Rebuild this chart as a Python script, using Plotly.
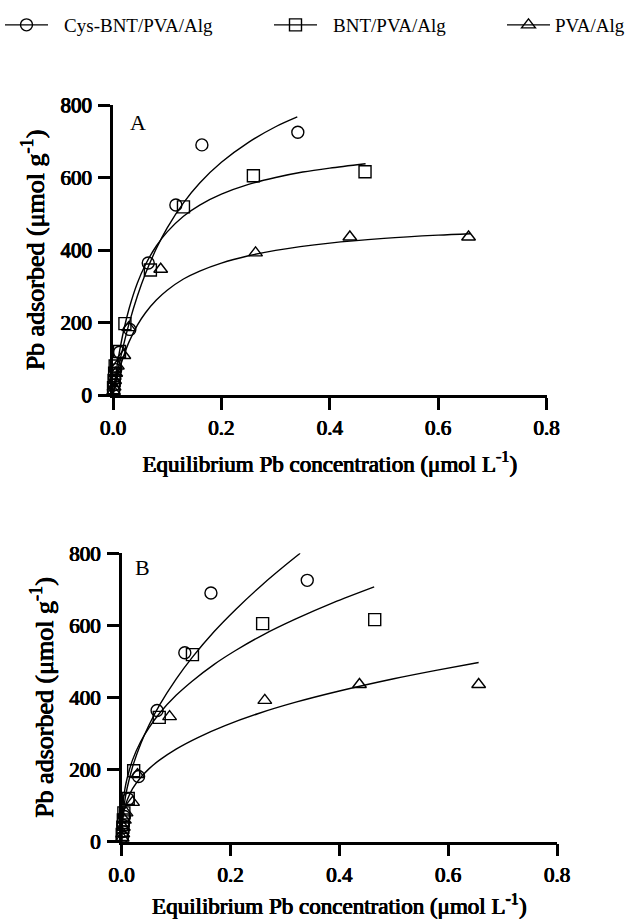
import plotly.graph_objects as go

# ---------------- data ----------------
cys_c = [0.001, 0.002, 0.003, 0.005, 0.012, 0.031, 0.065, 0.116, 0.164, 0.341]
cys_q = [12, 28, 45, 70, 118, 181, 364, 524, 690, 725]

bnt_c = [0.001, 0.002, 0.003, 0.004, 0.012, 0.022, 0.069, 0.130, 0.259, 0.465]
bnt_q = [20, 40, 60, 80, 120, 197, 345, 519, 605, 616]

pva_c = [0.001, 0.002, 0.003, 0.005, 0.008, 0.020, 0.029, 0.088, 0.263, 0.437, 0.656]
pva_q = [10, 22, 40, 60, 80, 109, 186, 347, 392, 436, 436]

# Panel A fitted (Langmuir-type) curves
fitA_cys_c = [0, 0.002, 0.005, 0.01, 0.02, 0.03, 0.045, 0.06, 0.08, 0.1, 0.13, 0.16, 0.2, 0.25, 0.3, 0.34]
fitA_cys_q = [0, 16, 39, 76, 141, 199, 273, 335, 404, 461, 530, 585, 642, 697, 740, 767]

fitA_bnt_c = [0, 0.002, 0.005, 0.01, 0.02, 0.03, 0.045, 0.06, 0.08, 0.1, 0.13, 0.16, 0.2, 0.25, 0.3, 0.35, 0.4, 0.466]
fitA_bnt_q = [0, 23, 55, 103, 180, 240, 309, 360, 411, 450, 493, 524, 554, 581, 600, 615, 626, 638]

fitA_pva_c = [0, 0.002, 0.005, 0.01, 0.02, 0.03, 0.045, 0.06, 0.08, 0.1, 0.13, 0.16, 0.2, 0.25, 0.3, 0.4, 0.5, 0.6, 0.66]
fitA_pva_q = [0, 14, 33, 62, 109, 148, 193, 227, 262, 289, 320, 342, 364, 384, 399, 419, 432, 441, 445]

# Panel B fitted (Freundlich-type) curves
fitB_cys_c = [0, 0.0002, 0.001, 0.003, 0.006, 0.01, 0.02, 0.035, 0.05, 0.07, 0.1, 0.13, 0.17, 0.21, 0.26, 0.3, 0.328]
fitB_cys_q = [0, 23, 49, 83, 116, 149, 208, 272, 323, 380, 451, 512, 583, 645, 715, 766, 800]

fitB_bnt_c = [0, 0.0002, 0.001, 0.003, 0.006, 0.01, 0.02, 0.035, 0.05, 0.07, 0.1, 0.13, 0.17, 0.21, 0.26, 0.32, 0.39, 0.464]
fitB_bnt_q = [0, 43, 77, 114, 147, 176, 227, 278, 316, 357, 406, 446, 492, 531, 574, 618, 664, 707]

fitB_pva_c = [0, 0.0002, 0.001, 0.003, 0.006, 0.01, 0.02, 0.035, 0.05, 0.07, 0.1, 0.14, 0.19, 0.25, 0.32, 0.4, 0.5, 0.58, 0.656]
fitB_pva_q = [0, 29, 51, 75, 96, 115, 147, 178, 202, 227, 257, 289, 322, 355, 387, 418, 452, 476, 497]

series_names = ["Cys-BNT/PVA/Alg", "BNT/PVA/Alg", "PVA/Alg"]
symbols = ["circle-open", "square-open", "triangle-up-open"]

x_ticks = [0.0, 0.2, 0.4, 0.6, 0.8]
y_ticks = [0, 200, 400, 600, 800]

# ---------------- figure ----------------
FONT = "Liberation Serif"
# heavier strokes for the bold serif labels (no bold serif face is installed)
BOLD = "0.5px 0 0 #000, -0.5px 0 0 #000, 0 0.35px 0 #000"
fig = go.Figure()

points = [(cys_c, cys_q), (bnt_c, bnt_q), (pva_c, pva_q)]
fitsA = [(fitA_cys_c, fitA_cys_q), (fitA_bnt_c, fitA_bnt_q), (fitA_pva_c, fitA_pva_q)]
fitsB = [(fitB_cys_c, fitB_cys_q), (fitB_bnt_c, fitB_bnt_q), (fitB_pva_c, fitB_pva_q)]

for xa, ya, fits in [("x", "y", fitsA), ("x2", "y2", fitsB)]:
    for (fx, fy) in fits:
        fig.add_trace(go.Scatter(x=fx, y=fy, mode="lines", xaxis=xa, yaxis=ya,
                                 line=dict(color="black", width=1.4, shape="spline", smoothing=0.8),
                                 showlegend=False, hoverinfo="skip"))
    for (px, py), sym in zip(points, symbols):
        fig.add_trace(go.Scatter(x=px, y=py, mode="markers", xaxis=xa, yaxis=ya,
                                 marker=dict(symbol=sym, size=12, color="black",
                                             line=dict(color="black", width=1.4)),
                                 cliponaxis=False, showlegend=False))

# legend entries (three separate legends across the top)
GAP = "\u2002\u200a"   # extra room between legend symbol and its label
legend_labels = [GAP + series_names[0], GAP + series_names[1], series_names[2]]
for i, (label, sym) in enumerate(zip(legend_labels, symbols)):
    fig.add_trace(go.Scatter(x=[None], y=[None], mode="lines+markers", name=label,
                             legend="legend" if i == 0 else f"legend{i+1}",
                             line=dict(color="black", width=1.4),
                             marker=dict(symbol=sym, size=12, color="black",
                                         line=dict(color="black", width=1.4))))

axis_common = dict(showline=True, linecolor="black", linewidth=2.5, ticks="outside",
                   ticklen=12, tickwidth=2.5, tickcolor="black", showgrid=False,
                   zeroline=False, automargin=False,
                   tickfont=dict(family=FONT, size=21, color="black", shadow=BOLD))

xtitle = "Equilibrium Pb concentration (μmol L<sup>-1</sup>)"
ytitle = "Pb adsorbed (μmol g<sup>-1</sup>)"

def xaxis(domain, anchor):
    return dict(axis_common, domain=domain, anchor=anchor, range=[0, 0.8],
                tickvals=x_ticks, tickformat=".1f",
                title=dict(text=xtitle, standoff=17,
                           font=dict(family=FONT, size=23, color="black", shadow=BOLD)))

def yaxis(domain, anchor):
    return dict(axis_common, domain=domain, anchor=anchor, range=[0, 800],
                tickvals=y_ticks, ticklabelstandoff=2,
                title=dict(text=ytitle, standoff=9,
                           font=dict(family=FONT, size=26, color="black", shadow=BOLD)))

W, H = 630, 919
legend_font = dict(family=FONT, size=19, color="black")
fig.update_layout(
    width=W, height=H,
    margin=dict(l=0, r=0, t=0, b=0),
    paper_bgcolor="white", plot_bgcolor="white",
    font=dict(family=FONT, color="black"),
    xaxis=xaxis([113 / W, 546.6 / W], "y"),
    yaxis=yaxis([1 - 395 / H, 1 - 105 / H], "x"),
    xaxis2=xaxis([121.7 / W, 557 / W], "y2"),
    yaxis2=yaxis([1 - 841.7 / H, 1 - 553.3 / H], "x2"),
    legend=dict(x=0, y=1 - 25 / H, xanchor="left", yanchor="middle", itemwidth=43,
                font=legend_font, bgcolor="rgba(0,0,0,0)"),
    legend2=dict(x=269 / W, y=1 - 25 / H, xanchor="left", yanchor="middle", itemwidth=43,
                 font=legend_font, bgcolor="rgba(0,0,0,0)"),
    legend3=dict(x=1, y=1 - 25 / H, xanchor="right", yanchor="middle", itemwidth=43,
                 font=legend_font, bgcolor="rgba(0,0,0,0)"),
    annotations=[
        dict(text="A", x=0.046, y=753, xref="x", yref="y", showarrow=False,
             font=dict(family=FONT, size=22, color="black")),
        dict(text="B", x=0.039, y=762, xref="x2", yref="y2", showarrow=False,
             font=dict(family=FONT, size=22, color="black")),
    ],
)

fig.write_html("out.html")
